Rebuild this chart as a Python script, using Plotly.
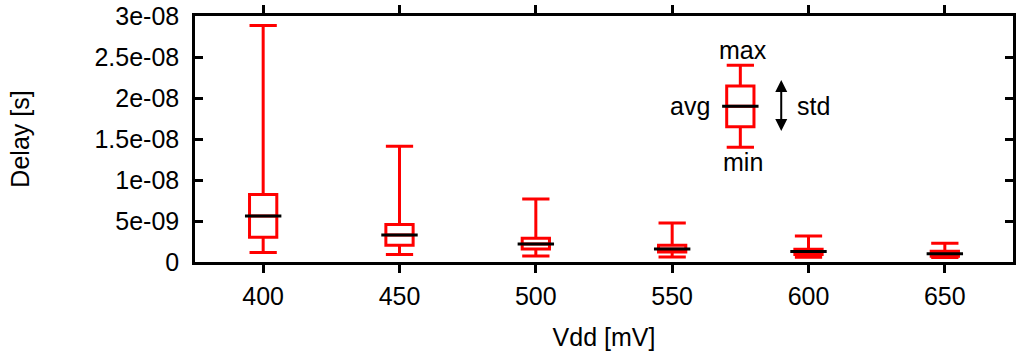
import plotly.graph_objects as go

# ---- data ----
vdd = [400, 450, 500, 550, 600, 650]
delay_min = [0.115e-8, 0.090e-8, 0.073e-8, 0.061e-8, 0.057e-8, 0.054e-8]
delay_q1 = [0.301e-8, 0.204e-8, 0.159e-8, 0.122e-8, 0.090e-8, 0.070e-8]
delay_avg = [0.561e-8, 0.329e-8, 0.220e-8, 0.159e-8, 0.127e-8, 0.102e-8]
delay_q3 = [0.822e-8, 0.456e-8, 0.289e-8, 0.204e-8, 0.155e-8, 0.130e-8]
delay_max = [2.883e-8, 1.411e-8, 0.768e-8, 0.476e-8, 0.317e-8, 0.228e-8]

# legend key box
key_x = [575]
key_min = [1.40e-8]
key_q1 = [1.65e-8]
key_avg = [1.90e-8]
key_q3 = [2.145e-8]
key_max = [2.40e-8]

y_tickvals = [0, 5e-9, 1e-8, 1.5e-8, 2e-8, 2.5e-8, 3e-8]
y_ticktext = ["0", "5e-09", "1e-08", "1.5e-08", "2e-08", "2.5e-08", "3e-08"]
x_tickvals = [400, 450, 500, 550, 600, 650]

FONT = "Liberation Sans, Arial, sans-serif"
RED = "#ff0000"

fig = go.Figure()

def add_boxes(xs, lo, q1, med, q3, hi):
    fig.add_trace(go.Box(
        x=xs, lowerfence=lo, q1=q1, median=med, q3=q3, upperfence=hi,
        width=10, whiskerwidth=1, boxpoints=False,
        line=dict(color=RED, width=3), fillcolor="rgba(0,0,0,0)",
        showlegend=False, hoverinfo="skip"))
    fig.add_trace(go.Scatter(
        x=xs, y=med, mode="markers",
        marker=dict(symbol="line-ew", size=26, line=dict(color="black", width=3)),
        showlegend=False, hoverinfo="skip"))

add_boxes(vdd, delay_min, delay_q1, delay_avg, delay_q3, delay_max)
add_boxes(key_x, key_min, key_q1, key_avg, key_q3, key_max)

tf = dict(family=FONT, size=25, color="black")
fig.add_annotation(x=key_x[0] + 1, y=2.58e-8, text="max", showarrow=False, font=tf)
fig.add_annotation(x=key_x[0] + 1, y=1.22e-8, text="min", showarrow=False, font=tf)
fig.add_annotation(x=key_x[0] - 10.5, y=key_avg[0], text="avg", showarrow=False,
                   xanchor="right", font=tf)
fig.add_annotation(x=key_x[0] + 20, y=key_avg[0], text="std", showarrow=False,
                   xanchor="left", font=tf)
fig.add_annotation(x=key_x[0] + 15, y=2.22e-8, ax=key_x[0] + 15, ay=1.58e-8,
                   xref="x", yref="y", axref="x", ayref="y", text="",
                   showarrow=True, arrowhead=2, startarrowhead=2, arrowside="end+start",
                   arrowsize=1.2, arrowwidth=2, arrowcolor="black")

axis_common = dict(showline=True, linecolor="black", linewidth=2.5, mirror="ticks",
                   showgrid=False, zeroline=False, ticklen=8, tickwidth=2.5,
                   tickcolor="black", tickfont=tf, automargin=False)

fig.update_xaxes(range=[375, 675], tickvals=x_tickvals, ticks="outside",
                 ticklabelstandoff=2,
                 title=dict(text="Vdd [mV]", font=tf, standoff=20), **axis_common)
fig.update_yaxes(range=[0, 3e-8], tickvals=y_tickvals, ticktext=y_ticktext,
                 ticks="inside", ticklabelstandoff=8,
                 title=dict(text="Delay [s]", font=tf, standoff=58), **axis_common)

fig.update_layout(width=1024, height=359, margin=dict(l=195, r=11, t=16, b=97),
                  plot_bgcolor="white", paper_bgcolor="white", font=tf)

fig.write_html("out.html", config={"displayModeBar": False},
               post_script="document.body.style.margin='0';document.body.style.overflow='hidden';")
